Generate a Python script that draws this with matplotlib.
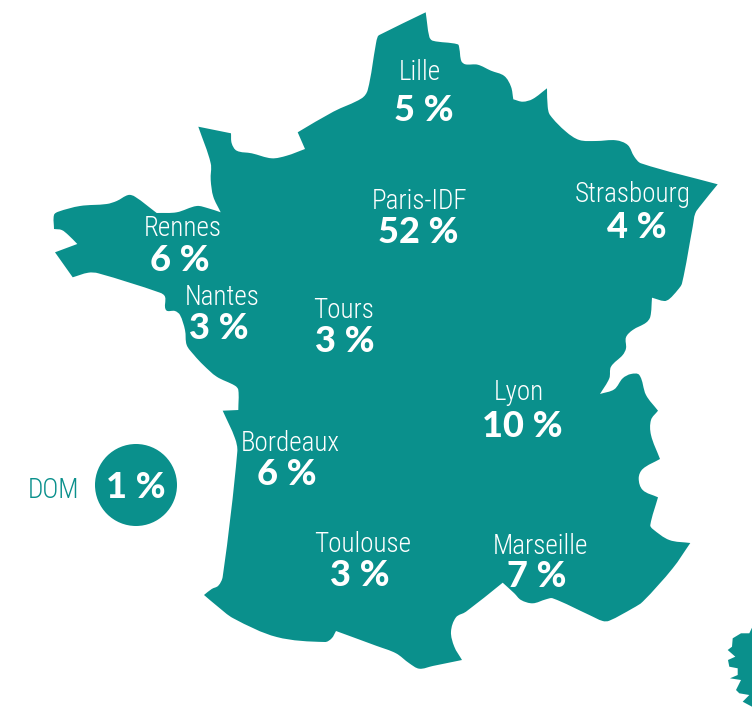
import math
import matplotlib
matplotlib.use("Agg")
import matplotlib.pyplot as plt
from matplotlib.path import Path
from matplotlib.patches import PathPatch, Circle
from matplotlib import font_manager as fm

# ---- data ----
cities = ["Lille", "Paris-IDF", "Strasbourg", "Rennes", "Nantes", "Tours",
          "Lyon", "Bordeaux", "Toulouse", "Marseille"]
shares = [5, 52, 4, 6, 3, 3, 10, 6, 3, 7]
dom_label = "DOM"
dom_share = 1

# ---- layout (pixel space of the image) ----
name_pos = [(420, 80), (420, 209), (633, 202), (183, 236), (222, 305), (344, 318),
            (519, 400), (290, 451), (363, 552), (540, 554)]
value_pos = [(424, 121), (418, 243), (637, 238), (180, 271), (219, 339), (345, 352),
             (522, 437), (287, 485), (360, 586), (537, 587)]
dom_name_pos = (53, 498)
dom_value_pos = (136, 498)
dom_circle = (136, 485, 41)
TEAL = "#0A908C"

# France outline: each run is smooth inside and meets the next at a sharp corner
france_runs = [
    [(425.7, 12.3), (429.3, 36.7), (432.7, 40.7), (457.7, 44.3), (459.3, 48.3), (461.3, 61),
     (465.3, 64.3), (477.7, 64.7), (491, 70.7), (504.3, 76), (511, 86.7), (513.3, 99.3)],
    [(513.3, 99.3), (522.7, 101.7), (532.7, 99), (547, 88.3)],
    [(547, 88.3), (547.7, 106.7), (550, 115), (566, 131.7), (579.3, 140), (596, 141),
     (616, 140.3), (627.7, 145), (634.3, 156.7), (641, 163.3), (717.7, 184.3)],
    [(717.7, 184.3), (701, 205), (695.3, 213.3), (692.7, 226.7), (682, 283.3), (677.7, 290),
     (669.3, 299), (664.3, 301), (652, 297.7)],
    [(652, 297.7), (650.3, 316.7), (646, 322.7), (632.7, 330), (626, 337.3), (626, 348.3),
     (622.7, 355), (611, 366.7), (609.3, 378.3), (600, 394)],
    [(600, 394), (614.3, 389.3), (622.7, 378.3), (631, 374), (639.3, 375), (646, 395),
     (658, 410.7)],
    [(658, 410.7), (651, 420), (651, 435), (660, 459)],
    [(660, 459), (642.7, 469), (638.7, 478.3), (642.7, 490), (658, 497.3)],
    [(658, 497.3), (650.3, 525), (652.7, 529), (669.3, 540), (690.3, 543)],
    [(690.3, 543), (672.7, 568.3), (642.7, 601.7), (632.7, 608.3), (609.3, 620.7), (602.7, 621),
     (589.3, 615), (552.7, 598.3), (546, 599.3), (532.7, 603.3), (521, 600), (514.3, 593.3),
     (502.7, 582.7)],
    [(502.7, 582.7), (466, 611.7), (456, 617.3), (451, 631.7), (454.3, 646.7), (462, 660)],
    [(462, 660), (432.7, 666), (419.3, 668.7), (409.3, 663.3), (396, 653.3), (376, 645.7),
     (336, 631)],
    [(336, 631), (331.7, 638.3), (325, 642), (276.7, 637), (233.3, 618.3), (216.7, 605.7),
     (204, 595)],
    [(204, 595), (211.7, 589), (218.3, 585.7), (222.7, 576.7), (237.3, 451.7), (235, 438.3),
     (222.7, 410.7)],
    [(222.7, 410.7), (238.3, 410)],
    [(238.3, 410), (238.3, 390), (235, 385.7), (216.7, 376.7), (203.3, 365), (194, 355),
     (186.7, 345), (185, 330), (180, 315), (175, 311), (166, 310), (165, 296.7), (160, 292.7),
     (98.3, 273.3), (88.3, 272.7), (72.7, 277.3)],
    [(72.7, 277.3), (55, 252.3)],
    [(55, 252.3), (77.3, 244)],
    [(77.3, 244), (68.3, 235), (61.7, 230), (54, 229)],
    [(54, 229), (54, 215), (58.3, 211.7), (80, 206), (106.7, 204), (116.7, 201), (128.3, 195),
     (135, 196.7), (156.7, 213)],
    [(156.7, 213), (176.7, 212.3), (196.7, 206), (208.3, 208.3), (220.7, 212.3)],
    [(220.7, 212.3), (213.3, 196.7), (210.7, 180), (210.7, 163.3), (198.3, 126.7)],
    [(198.3, 126.7), (231, 133.3)],
    [(231, 133.3), (231.7, 143.3), (236.7, 150.7), (251.7, 153.3), (271.7, 158.3), (286.7, 155.7),
     (305, 149)],
    [(305, 149), (297.7, 132.3)],
    [(297.7, 132.3), (333.3, 111.7), (361.7, 98.3), (367.7, 90), (376, 43.3), (377.7, 36.7),
     (379.3, 35), (425.7, 12.3)],
]
corsica_outline = [(752, 627.7), (749.3, 633.3), (741, 633.3), (732.7, 638.3), (732, 646.7),
                   (727.7, 650), (735.3, 656.7), (728, 660), (729.3, 666.7), (737.7, 668.3),
                   (737.7, 675), (730, 678.3), (741, 680), (736, 690), (739.3, 693.3),
                   (749.3, 695), (742.7, 701.7), (752, 706.7), (760, 706.7), (760, 627.7)]


def first_installed(*names):
    have = {f.name for f in fm.fontManager.ttflist}
    for n in names:
        if n in have:
            return n
    return "DejaVu Sans"


def unit(a, b):
    dx, dy = b[0] - a[0], b[1] - a[1]
    d = math.hypot(dx, dy) or 1.0
    return dx / d, dy / d


def smooth_path(runs):
    verts, codes = [runs[0][0]], [Path.MOVETO]
    for run in runs:
        n = len(run)
        for i in range(n - 1):
            p0 = run[max(i - 1, 0)]
            p1 = run[i]
            p2 = run[i + 1]
            p3 = run[min(i + 2, n - 1)]
            h = math.hypot(p2[0] - p1[0], p2[1] - p1[1]) / 3
            t1 = unit(p0, p2)
            t2 = unit(p1, p3)
            verts += [(p1[0] + t1[0] * h, p1[1] + t1[1] * h),
                      (p2[0] - t2[0] * h, p2[1] - t2[1] * h), p2]
            codes += [Path.CURVE4] * 3
    verts.append(verts[0])
    codes.append(Path.CLOSEPOLY)
    return Path(verts, codes)


name_font = first_installed("Roboto Condensed", "Open Sans Condensed", "Noto Sans Condensed",
                            "Lato")
value_font = "Lato"
NAME_PT = 19.5 if name_font != "Lato" else 17.8
VALUE_PT = 26

fig = plt.figure(figsize=(7.52, 7.09), dpi=100, facecolor="white")
ax = fig.add_axes([0, 0, 1, 1])
ax.set_xlim(0, 752)
ax.set_ylim(709, 0)
ax.axis("off")

ax.add_patch(PathPatch(smooth_path(france_runs), facecolor=TEAL, edgecolor="none"))
ax.fill([p[0] for p in corsica_outline], [p[1] for p in corsica_outline], color=TEAL, lw=0)
ax.add_patch(Circle(dom_circle[:2], dom_circle[2], facecolor=TEAL, edgecolor="none"))

for city, share, np_, vp in zip(cities, shares, name_pos, value_pos):
    ax.text(np_[0], np_[1], city, color="white", ha="center", va="baseline",
            fontsize=NAME_PT, family=name_font, fontweight="light")
    ax.text(vp[0], vp[1], f"{share} %", color="white", ha="center", va="baseline",
            fontsize=VALUE_PT, family=value_font, fontweight="black")

ax.text(*dom_name_pos, dom_label, color=TEAL, ha="center", va="baseline",
        fontsize=NAME_PT, family=name_font, fontweight="light")
ax.text(*dom_value_pos, f"{dom_share} %", color="white", ha="center", va="baseline",
        fontsize=VALUE_PT, family=value_font, fontweight="black")

fig.savefig("out.png", dpi=100, facecolor="white")
